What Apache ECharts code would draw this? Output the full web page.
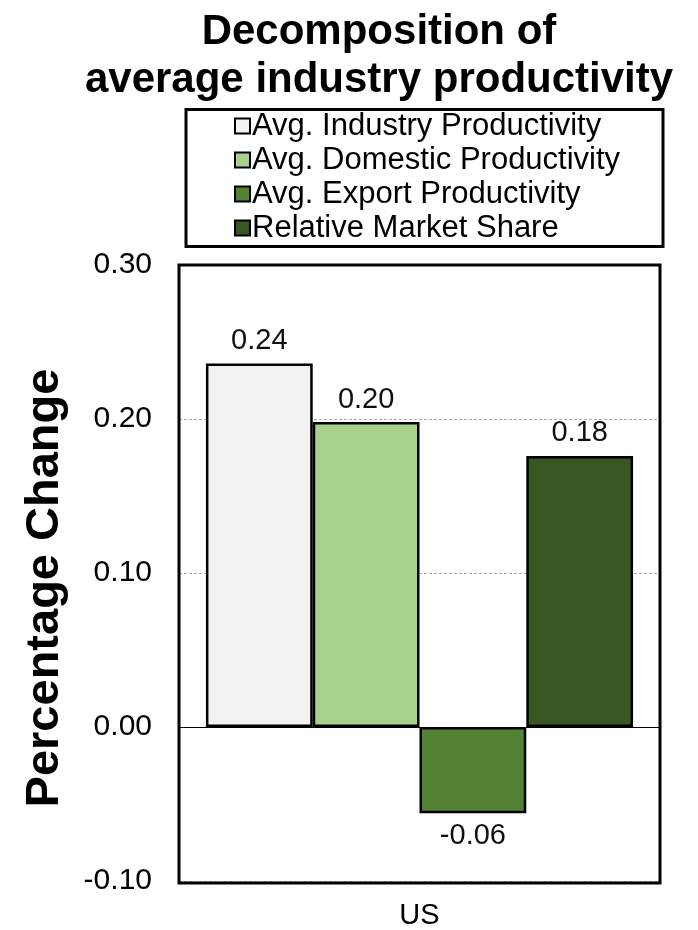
<!DOCTYPE html>
<html>
<head>
<meta charset="utf-8">
<script src="https://cdn.jsdelivr.net/npm/echarts@6/dist/echarts.min.js"></script>
<style>html,body{margin:0;padding:0;background:#fff;}#c{width:698px;height:930px;}</style>
</head>
<body>
<div id="c"></div>
<script>
var categories = ['US'];
var seriesNames = ['Avg. Industry Productivity', 'Avg. Domestic Productivity', 'Avg. Export Productivity', 'Relative Market Share'];
var seriesValues = [[0.236], [0.198], [-0.056], [0.176]];
var seriesColors = ['#f2f2f2', '#a9d18e', '#548235', '#385723'];
var yTicks = { min: -0.1, max: 0.3, interval: 0.1 };

var FONT = 'Liberation Sans, Arial, sans-serif';
var chart = echarts.init(document.getElementById('c'), null, { renderer: 'canvas' });

var series = seriesNames.map(function (name, i) {
  return {
    name: name,
    type: 'bar',
    barGap: '0%',
    barCategoryGap: '11.2%',
    itemStyle: { color: seriesColors[i], borderColor: '#000', borderWidth: 2.5 },
    label: {
      show: true, position: 'top', distance: 8,
      fontFamily: FONT, fontSize: 29, color: '#111',
      formatter: function (p) { return p.value.toFixed(2); }
    },
    data: seriesValues[i].map(function (v) {
      return v < 0 ? { value: v, label: { position: 'bottom' } } : { value: v };
    }),
    markLine: i === 0 ? {
      silent: true, symbol: 'none', label: { show: false },
      lineStyle: { color: '#000', width: 1, type: 'solid' },
      data: [{ yAxis: 0 }]
    } : undefined,
    z: 3
  };
});

chart.setOption({
  backgroundColor: '#fff',
  animation: false,
  title: {
    text: 'Decomposition of\naverage industry productivity',
    left: 374, top: 3, textAlign: 'center',
    textStyle: { fontFamily: FONT, fontWeight: 'bold', fontSize: 42, lineHeight: 48, color: '#000' }
  },
  legend: {
    orient: 'vertical', left: 234, top: 109,
    itemWidth: 15, itemHeight: 15, itemGap: 0,
    padding: 0,
    icon: 'rect',
    textStyle: { fontFamily: FONT, fontSize: 31, color: '#000', lineHeight: 34, padding: [0, 0, 0, -3] },
    itemStyle: { borderColor: '#000', borderWidth: 2 },
    data: seriesNames
  },
  graphic: [{
    type: 'rect', z: 10,
    shape: { x: 186, y: 109.5, width: 477, height: 137 },
    style: { fill: 'none', stroke: '#000', lineWidth: 3 }
  }, {
    type: 'rect', z: 10,
    shape: { x: 179, y: 265, width: 481, height: 618 },
    style: { fill: 'none', stroke: '#000', lineWidth: 3 }
  }],
  grid: {
    left: 179, top: 265, right: 38, bottom: 47,
    show: false, containLabel: false
  },
  xAxis: {
    type: 'category', data: categories,
    axisLine: { show: false }, axisTick: { show: false },
    axisLabel: { fontFamily: FONT, fontSize: 29, color: '#000', margin: 20 }
  },
  yAxis: {
    type: 'value', min: yTicks.min, max: yTicks.max, interval: yTicks.interval,
    name: 'Percentage Change', nameLocation: 'middle', nameGap: 110,
    nameTextStyle: { fontFamily: FONT, fontWeight: 'bold', fontSize: 47, color: '#000', padding: [0, 30, 0, 0] },
    axisLine: { show: false }, axisTick: { show: false },
    axisLabel: { fontFamily: FONT, fontSize: 30, color: '#000', margin: 27,
      formatter: function (v) { return v.toFixed(2); } },
    splitLine: { show: true, lineStyle: { color: '#aaa', type: [3, 2], width: 1 } }
  },
  series: series
});
</script>
</body>
</html>
